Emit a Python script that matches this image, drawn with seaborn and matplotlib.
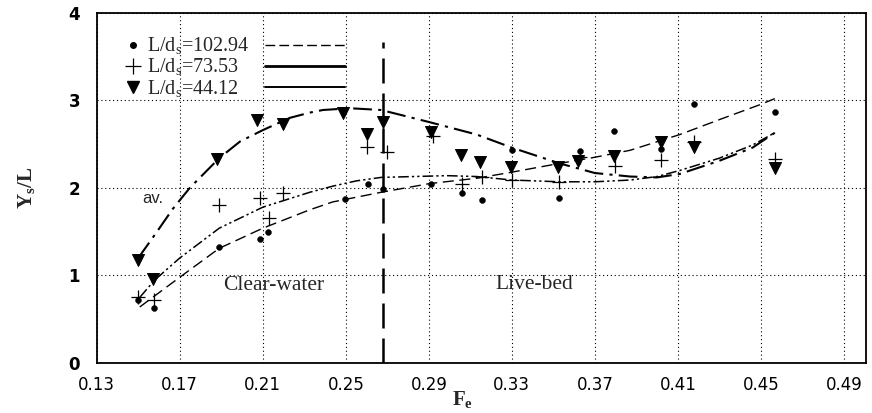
import numpy as np
import pandas as pd
import matplotlib
matplotlib.use("Agg")
import matplotlib.pyplot as plt
from matplotlib.lines import Line2D
import seaborn as sns

# ---------------- data ----------------
# L/ds = 102.94 (dots)
dot_x = [0.150, 0.1575, 0.189, 0.2086, 0.2125, 0.2495, 0.2606, 0.268, 0.291, 0.306, 0.3155, 0.330, 0.3527, 0.3628, 0.379, 0.4018, 0.418, 0.457]
dot_y = [0.72, 0.63, 1.33, 1.42, 1.50, 1.87, 2.05, 1.99, 2.05, 1.94, 1.86, 2.43, 1.89, 2.42, 2.65, 2.45, 2.96, 2.87]
# L/ds = 73.53 (crosses)
crs_x = [0.150, 0.1575, 0.189, 0.2086, 0.213, 0.2196, 0.260, 0.2697, 0.292, 0.306, 0.3155, 0.330, 0.3527, 0.3628, 0.3797, 0.402, 0.4177, 0.4567]
crs_y = [0.75, 0.72, 1.81, 1.88, 1.66, 1.94, 2.47, 2.41, 2.59, 2.05, 2.13, 2.09, 2.07, 2.35, 2.25, 2.32, 2.53, 2.33]
# L/ds = 44.12 (triangles)
tri_x = [0.150, 0.157, 0.188, 0.207, 0.2196, 0.2486, 0.260, 0.268, 0.291, 0.3054, 0.3146, 0.3295, 0.352, 0.362, 0.379, 0.4018, 0.4177, 0.4567]
tri_y = [1.18, 0.96, 2.33, 2.77, 2.73, 2.86, 2.62, 2.75, 2.64, 2.38, 2.30, 2.24, 2.24, 2.31, 2.36, 2.53, 2.47, 2.23]

# fitted curves
tri_cx = [0.150, 0.159, 0.1666, 0.1748, 0.189, 0.199, 0.210, 0.223, 0.2326, 0.239, 0.252, 0.267, 0.2905, 0.313, 0.330, 0.353, 0.370, 0.387, 0.400, 0.411, 0.430, 0.446, 0.4567]
tri_cy = [1.20, 1.50, 1.76, 2.00, 2.34, 2.53, 2.66, 2.80, 2.86, 2.89, 2.91, 2.89, 2.75, 2.61, 2.46, 2.28, 2.17, 2.13, 2.12, 2.16, 2.31, 2.46, 2.63]
crs_cx = [0.1507, 0.158, 0.170, 0.189, 0.210, 0.2326, 0.2437, 0.255, 0.267, 0.2987, 0.313, 0.330, 0.353, 0.370, 0.387, 0.400, 0.411, 0.430, 0.446, 0.4567]
crs_cy = [0.75, 0.95, 1.20, 1.54, 1.78, 1.95, 2.02, 2.08, 2.12, 2.14, 2.13, 2.09, 2.07, 2.07, 2.09, 2.13, 2.20, 2.34, 2.49, 2.63]
dot_cx = [0.1507, 0.170, 0.189, 0.210, 0.2326, 0.2437, 0.267, 0.2905, 0.313, 0.330, 0.353, 0.370, 0.387, 0.411, 0.430, 0.4495, 0.4567]
dot_cy = [0.64, 0.98, 1.31, 1.54, 1.75, 1.84, 1.95, 2.05, 2.11, 2.18, 2.28, 2.35, 2.43, 2.61, 2.78, 2.95, 3.02]

labels = [r"L/d$_\mathregular{s}$=102.94", r"L/d$_\mathregular{s}$=73.53", r"L/d$_\mathregular{s}$=44.12"]
xticks = [0.13, 0.17, 0.21, 0.25, 0.29, 0.33, 0.37, 0.41, 0.45, 0.49]
yticks = [0, 1, 2, 3, 4]
threshold_x = 0.268

# ---------------- plotting ----------------
sns.set_theme(style="white")
plt.rcParams["font.family"] = ["DejaVu Sans"]
plt.rcParams["mathtext.fontset"] = "custom"
plt.rcParams["mathtext.rm"] = "Liberation Serif"
plt.rcParams["mathtext.bf"] = "Liberation Serif:bold"

fig = plt.figure(figsize=(8.72, 4.13), dpi=100)
ax = fig.add_axes([0.111, 0.121, 0.882, 0.848])

def curve(xs, ys, lw, dashes):
    df = pd.DataFrame({"x": xs, "y": ys})
    sns.lineplot(data=df, x="x", y="y", ax=ax, color="black", lw=lw,
                 estimator=None, sort=False)
    ax.lines[-1].set_dashes(dashes)

curve(tri_cx, tri_cy, 1.5, [9, 3, 1.5, 3])
curve(crs_cx, crs_cy, 1.1, [7, 2, 1.5, 2, 1.5, 2])
curve(dot_cx, dot_cy, 1.0, [8, 4])

sns.scatterplot(x=dot_x, y=dot_y, ax=ax, marker="o", s=18, color="black", edgecolor="black", zorder=5)
sns.scatterplot(x=crs_x, y=crs_y, ax=ax, marker="+", s=110, color="black", linewidth=0.9, zorder=5)
sns.scatterplot(x=tri_x, y=tri_y, ax=ax, marker="v", s=75, color="black", edgecolor="black", zorder=5)

ax.axvline(threshold_x, ymin=0, ymax=3.67 / 4, color="black", lw=1.8, dashes=[10, 4])

ax.set_xlim(0.13, 0.5006)
ax.set_ylim(0, 4)
ax.set_xticks(xticks)
ax.set_xticklabels([f"{t:.2f}" for t in xticks])
ax.set_yticks(yticks)
ax.set_yticklabels([str(t) for t in yticks], fontweight="bold")
ax.grid(True, color="black", ls=(0, (1, 2.5)), lw=0.8)
ax.tick_params(axis="both", direction="in", length=4, width=1, labelsize=12, colors="black")
ax.tick_params(axis="x", pad=9)
ax.tick_params(axis="y", pad=12)
for sp in ax.spines.values():
    sp.set_color("black")
    sp.set_linewidth(1.3)

ax.set_xlabel(r"$\mathbf{F_e}$", fontsize=15)
ax.xaxis.set_label_coords(0.476, -0.075)
ax.set_ylabel(r"Y$_\mathregular{s}$/L", fontsize=15, labelpad=22,
              family="Liberation Serif", fontweight="bold")

ax.text(0.2153, 0.89, "Clear-water", family="Liberation Serif", fontsize=15.5, ha="center", va="center")
ax.text(0.3406, 0.90, "Live-bed", family="Liberation Serif", fontsize=15.5, ha="center", va="center")
ax.text(0.157, 1.88, "av.", family="Liberation Sans", fontsize=12, ha="center", va="center")

# legend: markers + labels, then line samples
legprop = {"family": "Liberation Serif", "size": 14.5}
mk_handles = [Line2D([], [], ls="none", marker="o", ms=4, color="black"),
              Line2D([], [], ls="none", marker="+", ms=11, mew=0.9, color="black"),
              Line2D([], [], ls="none", marker="v", ms=8, color="black")]
leg1 = ax.legend(mk_handles, labels, loc="upper left", bbox_to_anchor=(0.0234, 0.963),
                 frameon=False, borderpad=0, handlelength=0.8, handletextpad=0.3,
                 labelspacing=0.0, prop=legprop)
ax.add_artist(leg1)
ln_handles = [Line2D([], [], color="black", lw=1.0, dashes=[7, 3]),
              Line2D([], [], color="black", lw=2.0),
              Line2D([], [], color="black", lw=1.4)]
leg2 = ax.legend(ln_handles, labels, loc="upper left", bbox_to_anchor=(0.2055, 0.963),
                 frameon=False, borderpad=0, handlelength=4.0, handletextpad=0,
                 labelspacing=0.0, prop=legprop)
for t in leg2.get_texts():
    t.set_color("none")

fig.savefig("out.png", dpi=100)
